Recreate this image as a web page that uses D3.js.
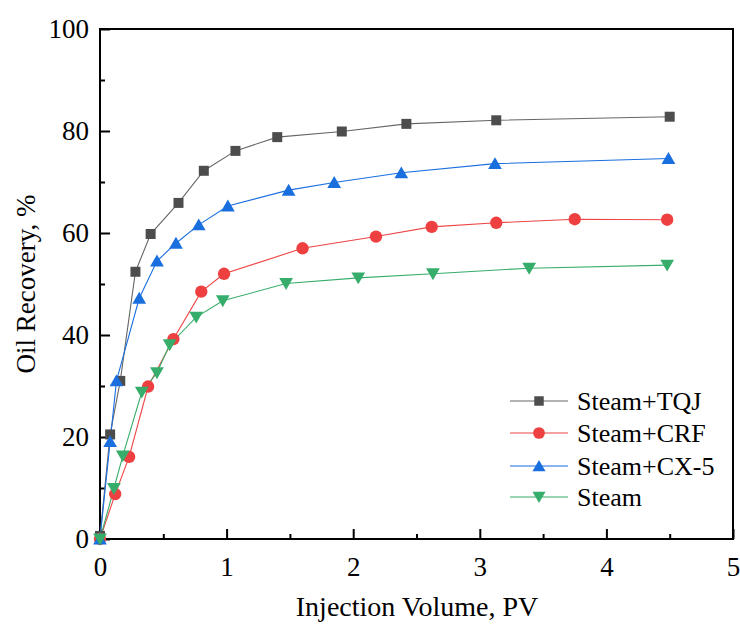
<!DOCTYPE html>
<html><head><meta charset="utf-8">
<script src="https://cdn.jsdelivr.net/npm/d3@7"></script>
<style>body{margin:0;background:#fff}svg{display:block}text{font-family:"Liberation Serif","Times New Roman",serif;fill:#000}</style>
</head><body><svg id="c" width="740" height="626"></svg>
<script>
const seriesNames = ["Steam+TQJ", "Steam+CRF", "Steam+CX-5", "Steam"];
const tqjX = [0, 0.08, 0.16, 0.28, 0.40, 0.62, 0.82, 1.07, 1.40, 1.91, 2.42, 3.13, 4.50];
const tqjY = [0.6, 20.5, 31.0, 52.4, 59.8, 65.9, 72.2, 76.1, 78.8, 79.9, 81.4, 82.1, 82.8];
const crfX = [0, 0.12, 0.23, 0.38, 0.58, 0.80, 0.98, 1.60, 2.18, 2.62, 3.13, 3.75, 4.48];
const crfY = [0, 8.8, 16.1, 29.9, 39.2, 48.5, 52.0, 57.0, 59.3, 61.2, 62.0, 62.7, 62.6];
const cx5X = [0, 0.08, 0.13, 0.31, 0.45, 0.60, 0.78, 1.01, 1.49, 1.85, 2.38, 3.12, 4.49];
const cx5Y = [0, 19.1, 31.0, 47.2, 54.5, 58.0, 61.6, 65.3, 68.4, 69.9, 71.8, 73.6, 74.6];
const steamX = [0, 0.11, 0.18, 0.33, 0.45, 0.55, 0.76, 0.97, 1.47, 2.04, 2.63, 3.39, 4.48];
const steamY = [0, 9.9, 16.3, 28.8, 32.6, 38.1, 43.5, 46.7, 50.1, 51.2, 52.0, 53.1, 53.7];
const xTicks = [0, 1, 2, 3, 4, 5];
const yTicks = [0, 20, 40, 60, 80, 100];
const xLabel = "Injection Volume, PV";
const yLabel = "Oil Recovery, %";

const styles = [
  {color: "#4d4d4d", line: "#666666", sym: d3.symbolSquare, size: 100},
  {color: "#ee4040", line: "#ee4545", sym: d3.symbolCircle, size: 120},
  {color: "#1a6fdf", line: "#1a6fdf", sym: d3.symbolTriangle, size: 82},
  {color: "#37ad6b", line: "#37ad6b", sym: d3.symbolTriangle, size: 82, rot: 180}
];
const data = [
  tqjX.map((x, i) => [x, tqjY[i]]),
  crfX.map((x, i) => [x, crfY[i]]),
  cx5X.map((x, i) => [x, cx5Y[i]]),
  steamX.map((x, i) => [x, steamY[i]])
];

const svg = d3.select("#c");
const m = {l: 100, t: 29, r: 7, b: 87};
const W = 740 - m.l - m.r, H = 626 - m.t - m.b;
const x = d3.scaleLinear().domain([0, 5]).range([m.l, m.l + W]);
const y = d3.scaleLinear().domain([0, 100]).range([m.t + H, m.t]);

svg.append("rect").attr("x", m.l).attr("y", m.t).attr("width", W).attr("height", H)
  .attr("fill", "none").attr("stroke", "#000").attr("stroke-width", 2);

const xMinor = d3.range(0.5, 5, 1);
const yMinor = d3.range(10, 100, 20);
const gx = svg.append("g").attr("transform", `translate(0,${m.t + H})`);
gx.call(d3.axisBottom(x).tickValues(xTicks).tickSize(-10).tickPadding(18).tickFormat(d3.format("d")));
gx.append("g").call(d3.axisBottom(x).tickValues(xMinor).tickSize(-5).tickFormat(""));
const gy = svg.append("g").attr("transform", `translate(${m.l},0)`);
gy.call(d3.axisLeft(y).tickValues(yTicks).tickSize(-10).tickPadding(11).tickFormat(d3.format("d")));
gy.append("g").call(d3.axisLeft(y).tickValues(yMinor).tickSize(-5).tickFormat(""));
svg.selectAll(".domain").remove();
svg.selectAll(".tick line").attr("stroke", "#000").attr("stroke-width", 2);
svg.selectAll(".tick text").attr("font-size", 27).attr("font-family", "Liberation Serif").attr("fill", "#000");

svg.append("text").attr("x", 417).attr("y", 616).attr("text-anchor", "middle")
  .attr("font-size", 28).text(xLabel);
svg.append("text").attr("transform", `translate(35,${m.t + H / 2}) rotate(-90)`).attr("text-anchor", "middle")
  .attr("font-size", 27).text(yLabel);

const line = d3.line().x(d => x(d[0])).y(d => y(d[1]));
data.forEach((s, i) => {
  svg.append("path").datum(s).attr("d", line).attr("fill", "none")
    .attr("stroke", styles[i].line).attr("stroke-width", 1.1);
});
const shift = st => st.rot ? -1.5 : (st.sym === d3.symbolTriangle ? 1.5 : 0);
data.forEach((s, i) => {
  const st = styles[i];
  svg.append("g").selectAll("path").data(s).join("path")
    .attr("d", d3.symbol().type(st.sym).size(st.size))
    .attr("transform", d => `translate(${x(d[0])},${y(d[1]) + shift(st)})${st.rot ? " rotate(180)" : ""}`)
    .attr("fill", st.color);
});

const legY = [401, 433, 466, 497];
const lg = svg.append("g");
seriesNames.forEach((n, i) => {
  const st = styles[i];
  lg.append("line").attr("x1", 510).attr("x2", 568).attr("y1", legY[i]).attr("y2", legY[i])
    .attr("stroke", st.line).attr("stroke-width", 1.1);
  lg.append("path").attr("d", d3.symbol().type(st.sym).size(st.size * 0.9))
    .attr("transform", `translate(539,${legY[i] + shift(st)})${st.rot ? " rotate(180)" : ""}`)
    .attr("fill", st.color);
  lg.append("text").attr("x", 577).attr("y", legY[i]).attr("dy", "0.35em")
    .attr("font-size", 26).text(n);
});
</script></body></html>
